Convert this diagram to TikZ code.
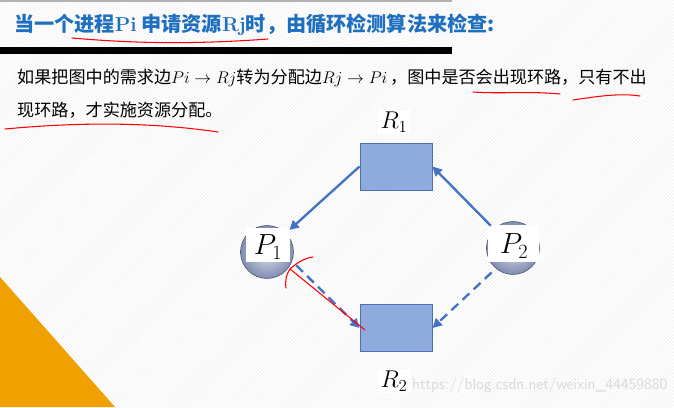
\documentclass[tikz,border=0pt]{standalone}
\usepackage{fontspec}
\newfontfamily\cjk{Noto Sans CJK SC}
\usetikzlibrary{positioning,arrows.meta,calc,patterns}
\definecolor{titleBlue}{HTML}{1E6FC0}
\definecolor{edgeBlue}{HTML}{4472C4}
\definecolor{resFill}{HTML}{8FAADC}
\definecolor{resEdge}{HTML}{4F6FB0}
\definecolor{procBall}{HTML}{7F8CB2}
\definecolor{slideOrange}{HTML}{F0A000}

\begin{document}
\begin{tikzpicture}[x=0.03cm, y=-0.03cm,
    resbox/.style={draw=resEdge, fill=resFill, line width=0.8pt, minimum width=2.16cm, minimum height=1.41cm, inner sep=0pt},
    procball/.style={circle, inner color=procBall!25!white, outer color=procBall, draw=procBall!50!black, minimum size=1.59cm, inner sep=0pt},
    tag/.style={fill=white, inner sep=2pt, font=\fontsize{22}{22}\selectfont},
    holdedge/.style={-{Triangle[length=8pt,width=8pt]}, line width=2pt, draw=edgeBlue},
    askedge/.style={holdedge, dash pattern=on 8pt off 5pt},
    pen/.style={red, line width=0.9pt, line cap=round}]
  % slide background
  \fill[white] (0,0) rectangle (674,407);
  \fill[pattern=north east lines, pattern color=gray!14] (0,0) rectangle (674,407);
  \fill[gray!60] (0,0) rectangle (452,1.5);
  \fill[black] (0,46.5) rectangle (452,54);
  \fill[slideOrange] (0,277) -- (0,407) -- (115,407) -- cycle;
  % texts
  \node[anchor=west, inner sep=0pt, text=titleBlue, font=\cjk\bfseries\fontsize{17.2}{17.2}\selectfont] (title) at (14,25)
    {当一个进程{\rmfamily\bfseries Pi} 申请资源{\rmfamily\bfseries Rj}时，由循环检测算法来检查:};
  \node[anchor=west, inner sep=0pt, font=\cjk\fontsize{14.6}{14.6}\selectfont] (line1) at (17,78)
    {如果把图中的需求边$Pi\rightarrow Rj$转为分配边$Rj\rightarrow Pi$\,，图中是否会出现环路，只有不出};
  \node[anchor=west, inner sep=0pt, font=\cjk\fontsize{14.6}{14.6}\selectfont] (line2) at (17,110)
    {现环路，才实施资源分配。};
  \node[anchor=west, inner sep=0pt, text=gray!30, font=\sffamily\fontsize{13.4}{13.4}\selectfont] (mark) at (412,386)
    {https://blog.csdn.net/weixin\_44459880};
  % resources and processes
  \node[resbox] (R1) at (396,166.5) {};
  \node[resbox] (R2) at (396,328) {};
  \node[tag] (R1lab) at (394,122) {$R_1$};
  \node[tag] (R2lab) at (394,381) {$R_2$};
  \node[procball] (P1) at (267,252) {};
  \node[procball] (P2) at (513,248) {};
  \fill[white] (246,228) rectangle (290,262);
  \fill[white] (488,225) rectangle (539,262);
  \node[font=\fontsize{23}{23}\selectfont, inner sep=0pt] (P1lab) at (268,247) {$P_1$};
  \node[font=\fontsize{23}{23}\selectfont, inner sep=0pt] (P2lab) at (514,246) {$P_2$};
  % edges
  \draw[holdedge, shorten >=4pt] (R1.west) -- (P1.45);
  \draw[holdedge, shorten <=4pt] (P2.135) -- (R1.east);
  \draw[askedge, shorten <=5pt] (P1.-20) -- (R2.west);
  \draw[askedge, shorten <=5pt] (P2.-130) -- (R2.east);
  % red pen marks
  \draw[pen] (72,38) .. controls (140,44) and (200,44) .. (268,39);
  \draw[pen] (473,92) .. controls (500,94) and (530,91) .. (560,94);
  \draw[pen] (573,100) .. controls (600,96) and (620,93) .. (640,96);
  \draw[pen] (5,129) .. controls (80,122) and (150,122) .. (218,132);
  \draw[pen] (365,330) -- (290,269);
  \draw[pen] (290,269) .. controls (298,262) and (305,258) .. (313,257);
  \draw[pen] (291,268) .. controls (286,274) and (285,280) .. (286,288);
\end{tikzpicture}
\end{document}
